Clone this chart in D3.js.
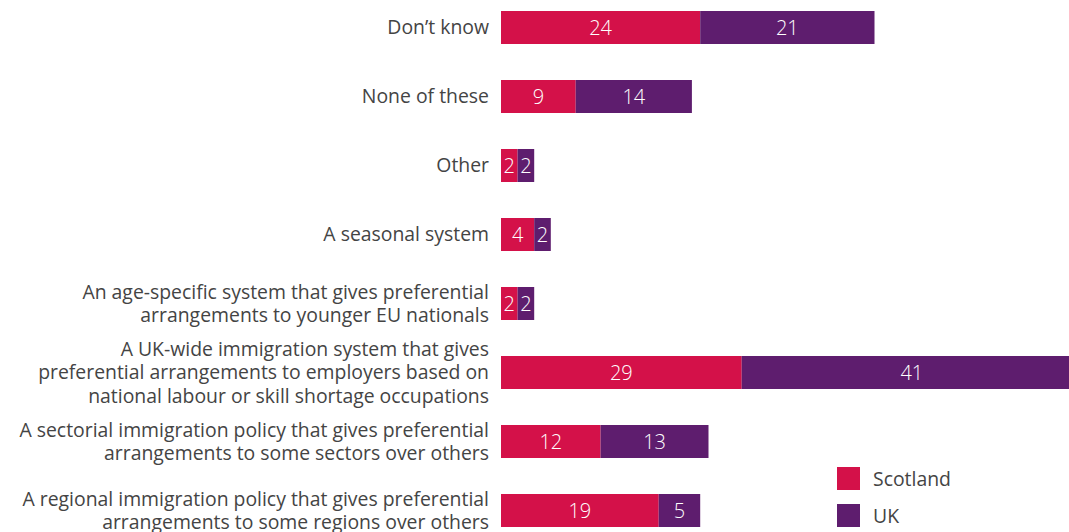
<!DOCTYPE html>
<html>
<head>
<meta charset="utf-8">
<script src="https://cdn.jsdelivr.net/npm/d3@7"></script>
<style>
  body { margin: 0; background: #fff; }
  svg { display: block; font-family: "Open Sans", sans-serif; }
</style>
</head>
<body>
<svg width="1069" height="532"></svg>
<script>
// answer categories, top to bottom (lines split for wrapping)
const categories = [
  ["Don\u2019t know"],
  ["None of these"],
  ["Other"],
  ["A seasonal system"],
  ["An age-specific system that gives preferential", "arrangements to younger EU nationals"],
  ["A UK-wide immigration system that gives", "preferential arrangements to employers based on", "national labour or skill shortage occupations"],
  ["A sectorial immigration policy that gives preferential", "arrangements to some sectors over others"],
  ["A regional immigration policy that gives preferential", "arrangements to some regions over others"]
];
const scotland = [24, 9, 2, 4, 2, 29, 12, 19];
const uk = [21, 14, 2, 2, 2, 41, 13, 5];
const seriesNames = ["Scotland", "UK"];
const colours = ["#d41149", "#5e1d6e"];

const svg = d3.select('svg');

const x = d3.scaleLinear().domain([0, 70]).range([501, 501 + 70 * 8.3]);
const y = d3.scalePoint().domain(d3.range(categories.length)).range([27.5, 510.5]);
const barH = 33;

const rows = categories.map((c, i) => ({ i: i, lines: c, s: scotland[i], u: uk[i] }));

// category labels
const lab = svg.selectAll('text.cat')
  .data(rows)
  .enter().append('text')
    .attr('class', 'cat')
    .attr('text-anchor', 'end')
    .attr('fill', '#444')
    .style('font-size', '19.4px');

lab.each(function(d) {
  const n = d.lines.length;
  const lh = 23.5;
  d3.select(this).selectAll('tspan')
    .data(d.lines)
    .enter().append('tspan')
      .attr('x', 489)
      .attr('y', (l, k) => y(d.i) + (k - (n - 1) / 2) * lh)
      .attr('dy', '0.35em')
      .text(l => l);
});

// stacked segments
const segs = [];
rows.forEach(r => {
  segs.push({ i: r.i, x0: 0, x1: r.s, v: r.s, k: 0 });
  segs.push({ i: r.i, x0: r.s, x1: r.s + r.u, v: r.u, k: 1 });
});

svg.selectAll('rect.seg')
  .data(segs)
  .enter().append('rect')
    .attr('class', 'seg')
    .attr('x', d => x(d.x0))
    .attr('width', d => x(d.x1) - x(d.x0))
    .attr('y', d => y(d.i) - barH / 2)
    .attr('height', barH)
    .attr('fill', d => colours[d.k]);

svg.selectAll('text.val')
  .data(segs)
  .enter().append('text')
    .attr('class', 'val')
    .attr('x', d => (x(d.x0) + x(d.x1)) / 2)
    .attr('y', d => y(d.i))
    .attr('dy', '0.36em')
    .attr('text-anchor', 'middle')
    .attr('fill', '#fff')
    .style('font-size', '20px')
    .style('font-weight', 300)
    .text(d => d.v);

// legend
const leg = svg.selectAll('g.leg')
  .data(seriesNames)
  .enter().append('g')
    .attr('class', 'leg')
    .attr('transform', (d, i) => 'translate(837,' + (467 + i * 37) + ')');

leg.append('rect')
  .attr('width', 23)
  .attr('height', 23)
  .attr('fill', (d, i) => colours[i]);

leg.append('text')
  .attr('x', 36)
  .attr('y', 12)
  .attr('dy', '0.35em')
  .attr('fill', '#444')
  .style('font-size', '19.4px')
  .text(d => d);
</script>
</body>
</html>
